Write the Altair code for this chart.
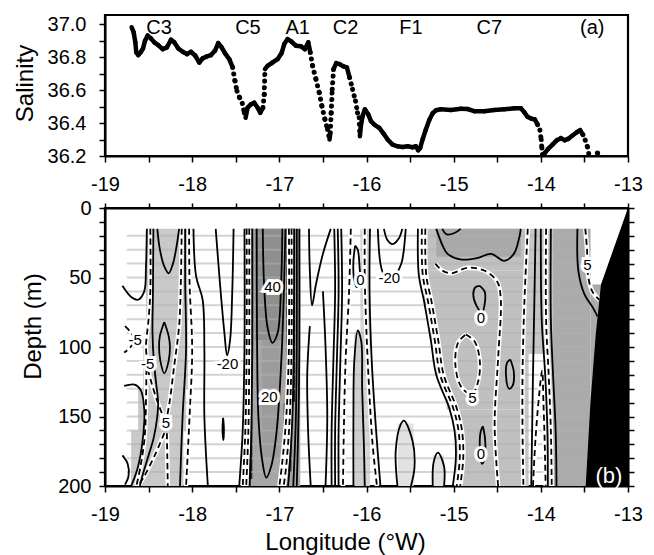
import altair as alt
import pandas as pd

FONT = "Liberation Sans"

# ---------------- (a) salinity along the track ----------------
sal_lon = [-18.694, -18.671, -18.652, -18.641, -18.618, -18.587, -18.564, -18.541, -18.511, -18.473,
           -18.434, -18.389, -18.339, -18.289, -18.243, -18.205, -18.159, -18.109, -18.060, -18.014,
           -17.964, -17.918, -17.880, -17.830, -17.784, -17.739, -17.701, -17.662, -17.624, -17.574,
           -17.536, -17.509, -17.486, -17.456, -17.425, -17.402, -17.387, -17.364, -17.326, -17.288,
           -17.249, -17.219, -17.188, -17.173, -17.165, -17.135, -17.077, -17.020, -16.974, -16.944,
           -16.905, -16.860, -16.810, -16.752, -16.707, -16.668, -16.645, -16.619, -16.580, -16.542,
           -16.512, -16.477, -16.447, -16.424, -16.416, -16.405, -16.393, -16.378, -16.347, -16.309,
           -16.263, -16.225, -16.194, -16.160, -16.126, -16.103, -16.084, -16.076, -16.065, -16.045,
           -16.018, -15.980, -15.949, -15.911, -15.854, -15.804, -15.758, -15.701, -15.643, -15.586,
           -15.529, -15.471, -15.433, -15.407, -15.384, -15.357, -15.319, -15.280, -15.242, -15.204,
           -15.147, -15.032, -14.917, -14.841, -14.764, -14.650, -14.535, -14.420, -14.306, -14.229,
           -14.191, -14.153, -14.107, -14.069, -14.038, -14.011, -13.996, -13.988, -13.981, -13.954,
           -13.916, -13.866, -13.816, -13.770, -13.725, -13.686, -13.637, -13.587, -13.549, -13.518,
           -13.491, -13.465, -13.446]
sal_val = [36.981, 36.950, 36.889, 36.828, 36.812, 36.832, 36.852, 36.899, 36.930, 36.913,
           36.889, 36.873, 36.848, 36.859, 36.905, 36.889, 36.852, 36.832, 36.818, 36.832,
           36.808, 36.767, 36.792, 36.804, 36.812, 36.838, 36.885, 36.859, 36.824, 36.787,
           36.737, 36.655, 36.594, 36.554, 36.519, 36.462, 36.432, 36.493, 36.513, 36.523,
           36.493, 36.462, 36.493, 36.574, 36.727, 36.747, 36.767, 36.787, 36.824, 36.879,
           36.909, 36.893, 36.869, 36.865, 36.848, 36.889, 36.828, 36.747, 36.665, 36.584,
           36.503, 36.422, 36.361, 36.300, 36.340, 36.462, 36.604, 36.727, 36.763, 36.757,
           36.743, 36.737, 36.676, 36.604, 36.533, 36.462, 36.432, 36.320, 36.381, 36.442,
           36.483, 36.452, 36.411, 36.391, 36.371, 36.336, 36.300, 36.269, 36.259, 36.255,
           36.259, 36.253, 36.259, 36.235, 36.249, 36.300, 36.361, 36.418, 36.458, 36.477,
           36.483, 36.479, 36.487, 36.485, 36.472, 36.472, 36.479, 36.483, 36.489, 36.489,
           36.466, 36.438, 36.426, 36.422, 36.391, 36.357, 36.300, 36.249, 36.208, 36.218,
           36.243, 36.269, 36.296, 36.308, 36.296, 36.304, 36.324, 36.344, 36.357, 36.330,
           36.296, 36.255, 36.202]
extra_lon = [-13.35]
extra_val = [36.218]
# stretches where the record is a row of separate dots
dotted_spans = [(-17.55, -17.38), (-17.19, -17.16), (-16.65, -16.42), (-16.42, -16.37),
                (-16.21, -16.07), (-14.04, -13.98), (-13.52, -13.44)]

stn_text = ["C3", "C5", "A1", "C2", "F1", "C7", "(a)"]
stn_lon = [-18.38, -17.36, -16.79, -16.24, -15.49, -14.59, -13.41]
stn_sal = [36.975, 36.975, 36.975, 36.975, 36.975, 36.975, 36.975]

lon_ticks = [-19, -18.5, -18, -17.5, -17, -16.5, -16, -15.5, -15, -14.5, -14, -13.5, -13]
sal_ticks = [36.2, 36.3, 36.4, 36.5, 36.6, 36.7, 36.8, 36.9, 37.0]
depth_ticks = [0, 10, 20, 30, 40, 50, 60, 70, 80, 90, 100, 110, 120, 130, 140, 150,
               160, 170, 180, 190, 200]

# ---------------- (b) section ----------------
# shaded patches: lon0, lon1, depth0, depth1, grey
shade = [
    (-18.53, -18.05, 15, 95, "#c9c9c9"),
    (-18.56, -18.05, 95, 130, "#c9c9c9"),
    (-18.62, -18.07, 130, 160, "#c9c9c9"),
    (-18.70, -18.10, 160, 200, "#c9c9c9"),
    (-17.40, -16.76, 15, 200, "#a6a6a6"),
    (-17.28, -16.96, 15, 95, "#8f8f8f"),
    (-17.20, -17.00, 95, 180, "#9c9c9c"),
    (-17.39, -17.31, 15, 195, "#262626"),
    (-16.92, -16.82, 15, 140, "#202020"),
    (-16.95, -16.86, 140, 190, "#404040"),
    (-16.07, -15.96, 15, 200, "#d6d6d6"),
    (-16.14, -16.02, 90, 200, "#cfcfcf"),
    (-15.64, -15.46, 155, 200, "#e2e2e2"),
    (-15.24, -15.11, 178, 200, "#e2e2e2"),
    (-15.38, -14.18, 15, 45, "#c0c0c0"),
    (-15.34, -14.18, 45, 70, "#c0c0c0"),
    (-15.26, -14.18, 70, 95, "#c0c0c0"),
    (-15.20, -14.18, 95, 120, "#c0c0c0"),
    (-15.08, -14.18, 120, 145, "#c0c0c0"),
    (-14.97, -14.18, 145, 200, "#c0c0c0"),
    (-15.20, -14.23, 15, 35, "#a9a9a9"),
    (-14.18, -13.86, 15, 105, "#c6c6c6"),
    (-14.18, -14.14, 105, 200, "#c6c6c6"),
    (-13.92, -13.86, 105, 200, "#c6c6c6"),
    (-13.86, -13.43, 15, 200, "#ababab"),
    (-13.43, -13.30, 55, 200, "#ababab"),
]
stripe_depths = [20, 30, 40, 50, 60, 70, 80, 90, 100, 110, 120, 130, 140, 150, 160, 170, 180, 190]
stripe_lon = (-18.75, -13.43)

contours = [
    ("solid", [(-18.80, 56), (-18.70, 64), (-18.62, 66), (-18.55, 60), (-18.53, 42), (-18.52, 15)]),
    ("dash", [(-18.48, 15), (-18.48, 60), (-18.50, 80), (-18.53, 100), (-18.515, 110)]),
    ("dash", [(-18.51, 116), (-18.47, 125), (-18.40, 139), (-18.32, 152)]),
    ("dash", [(-18.525, 116), (-18.53, 140), (-18.545, 165), (-18.59, 185), (-18.64, 200)]),
    ("dash", [(-18.77, 85), (-18.71, 89), (-18.67, 93)]),
    ("dash", [(-18.67, 97), (-18.72, 101), (-18.78, 104)]),
    ("solid", [(-18.445, 15), (-18.45, 60), (-18.455, 90), (-18.44, 110), (-18.41, 128), (-18.39, 140),
               (-18.40, 150), (-18.44, 165), (-18.52, 182), (-18.58, 195), (-18.60, 200)]),
    ("solid", [(-18.78, 128), (-18.66, 127), (-18.59, 131), (-18.55, 145), (-18.57, 168), (-18.625, 187), (-18.70, 200)]),
    ("solid", [(-18.80, 178), (-18.74, 184), (-18.73, 193), (-18.77, 199)]),
    ("solid", [(-18.40, 15), (-18.37, 30), (-18.32, 42), (-18.27, 47), (-18.22, 40), (-18.18, 28), (-18.15, 15)]),
    ("solid", [(-18.32, 82), (-18.27, 92), (-18.255, 100), (-18.27, 110), (-18.32, 119), (-18.365, 110),
               (-18.38, 100), (-18.37, 92), (-18.32, 82)]),
    ("dash", [(-18.12, 15), (-18.13, 54), (-18.15, 85), (-18.205, 113), (-18.26, 140), (-18.30, 154)]),
    ("dash", [(-18.32, 162), (-18.43, 178), (-18.55, 193), (-18.62, 200)]),
    ("dash", [(-18.29, 162), (-18.285, 180), (-18.28, 200)]),
    ("solid", [(-18.08, 15), (-18.08, 54), (-18.07, 102), (-18.11, 150), (-18.14, 200)]),
    ("dash", [(-18.035, 15), (-18.03, 54), (-18.00, 102), (-18.03, 150), (-18.07, 200)]),
    ("solid", [(-17.985, 15), (-17.955, 49), (-17.88, 66), (-17.86, 102), (-17.86, 150), (-17.82, 200)]),
    ("solid", [(-17.73, 15), (-17.68, 55), (-17.63, 90), (-17.60, 106), (-17.565, 95), (-17.54, 60), (-17.525, 15)]),
    ("solid", [(-17.645, 151), (-17.636, 158), (-17.642, 167), (-17.652, 160), (-17.645, 151)]),
    ("solid", [(-17.40, 15), (-17.40, 100), (-17.42, 160), (-17.46, 200)]),
    ("dash", [(-17.375, 15), (-17.375, 100), (-17.39, 160), (-17.42, 200)]),
    ("dash", [(-17.345, 15), (-17.345, 100), (-17.355, 160), (-17.38, 200)]),
    ("solid", [(-17.31, 15), (-17.31, 100), (-17.32, 160), (-17.34, 200)]),
    ("solid", [(-17.26, 15), (-17.255, 100), (-17.24, 150), (-17.20, 180), (-17.15, 194), (-17.09, 185),
               (-17.03, 160), (-16.97, 100), (-16.93, 15)]),
    ("solid", [(-17.19, 15), (-17.175, 55), (-17.135, 86), (-17.08, 97), (-17.02, 90), (-16.98, 55), (-16.965, 15)]),
    ("dash", [(-16.89, 15), (-16.89, 100), (-16.92, 150), (-16.97, 185), (-17.00, 200)]),
    ("dash", [(-16.86, 15), (-16.86, 100), (-16.88, 150), (-16.92, 185), (-16.95, 200)]),
    ("solid", [(-16.83, 15), (-16.835, 100), (-16.85, 150), (-16.88, 185), (-16.90, 200)]),
    ("solid", [(-16.80, 15), (-16.80, 100), (-16.81, 150), (-16.84, 200)]),
    ("solid", [(-16.77, 15), (-16.77, 100), (-16.78, 150), (-16.80, 200)]),
    ("solid", [(-16.66, 15), (-16.65, 45), (-16.625, 70), (-16.58, 55), (-16.50, 33), (-16.41, 15)]),
    ("solid", [(-16.65, 85), (-16.68, 120), (-16.67, 160), (-16.64, 200)]),
    ("solid", [(-16.50, 60), (-16.47, 100), (-16.45, 150), (-16.47, 200)]),
    ("solid", [(-16.37, 15), (-16.36, 60), (-16.38, 110), (-16.40, 160), (-16.40, 200)]),
    ("solid", [(-16.33, 15), (-16.32, 60), (-16.34, 110), (-16.36, 160), (-16.36, 200)]),
    ("solid", [(-16.29, 15), (-16.28, 60), (-16.30, 110), (-16.32, 160), (-16.32, 200)]),
    ("dash", [(-16.18, 15), (-16.20, 60), (-16.24, 110), (-16.26, 160), (-16.27, 200)]),
    ("solid", [(-16.13, 27), (-16.10, 30), (-16.08, 42), (-16.075, 50), (-16.11, 57), (-16.145, 50),
               (-16.15, 38), (-16.13, 27)]),
    ("solid", [(-16.15, 200), (-16.15, 150), (-16.14, 110), (-16.10, 88), (-16.06, 96), (-16.05, 130),
               (-16.03, 170), (-16.02, 200)]),
    ("dash", [(-16.02, 15), (-16.02, 50), (-16.00, 90), (-15.97, 130), (-15.93, 170), (-15.88, 200)]),
    ("solid", [(-15.96, 15), (-15.965, 60), (-15.94, 110), (-15.89, 160), (-15.84, 200)]),
    ("solid", [(-15.87, 15), (-15.84, 40), (-15.80, 48), (-15.74, 50), (-15.66, 47), (-15.60, 40), (-15.55, 15)]),
    ("solid", [(-15.80, 15), (-15.76, 23), (-15.70, 26), (-15.63, 22), (-15.59, 15)]),
    ("solid", [(-15.645, 200), (-15.665, 175), (-15.61, 156), (-15.57, 153), (-15.47, 168), (-15.45, 187), (-15.49, 200)]),
    ("solid", [(-15.24, 200), (-15.23, 183), (-15.18, 176), (-15.11, 186), (-15.11, 200)]),
    ("solid", [(-15.41, 15), (-15.40, 48), (-15.34, 67), (-15.26, 96), (-15.20, 120), (-15.05, 144),
               (-14.99, 160), (-14.975, 180), (-15.01, 200)]),
    ("dash", [(-15.365, 15), (-15.355, 48), (-15.295, 67), (-15.215, 96), (-15.155, 120), (-15.005, 144),
              (-14.945, 160), (-14.93, 180), (-14.965, 200)]),
    ("dash", [(-15.325, 15), (-15.315, 48), (-15.255, 67), (-15.175, 96), (-15.115, 120), (-14.965, 144),
              (-14.905, 160), (-14.89, 180), (-14.925, 200)]),
    ("solid", [(-15.20, 15), (-15.12, 28), (-15.07, 33), (-14.92, 37), (-14.73, 36), (-14.57, 33),
               (-14.42, 38), (-14.31, 33), (-14.25, 22), (-14.23, 15)]),
    ("solid", [(-15.13, 15), (-15.08, 19), (-14.99, 18), (-14.92, 15)]),
    ("dash", [(-15.21, 40), (-15.13, 45), (-15.03, 47), (-14.84, 43), (-14.65, 45), (-14.50, 53), (-14.46, 65),
              (-14.49, 108), (-14.53, 156), (-14.49, 200)]),
    ("solid", [(-14.70, 56), (-14.645, 60), (-14.64, 67), (-14.675, 75), (-14.74, 70), (-14.775, 62),
               (-14.75, 57), (-14.70, 56)]),
    ("dash", [(-14.86, 91), (-14.76, 96), (-14.70, 110), (-14.72, 125), (-14.79, 134), (-14.91, 129),
              (-14.98, 113), (-14.95, 97), (-14.86, 91)]),
    ("solid", [(-14.35, 109), (-14.31, 118), (-14.325, 128), (-14.365, 130), (-14.40, 120), (-14.385, 111), (-14.35, 109)]),
    ("solid", [(-14.665, 157), (-14.64, 166), (-14.645, 180), (-14.675, 184), (-14.70, 172), (-14.69, 161), (-14.665, 157)]),
    ("dash", [(-14.15, 15), (-14.19, 70), (-14.21, 120), (-14.21, 160), (-14.20, 200)]),
    ("solid", [(-14.06, 15), (-14.075, 70), (-14.09, 120), (-14.10, 160), (-14.11, 200)]),
    ("dash", [(-14.09, 200), (-14.06, 165), (-14.02, 135), (-13.985, 117), (-13.97, 140), (-13.955, 170), (-13.945, 200)]),
    ("solid", [(-14.00, 15), (-13.99, 80), (-13.95, 120), (-13.925, 160), (-13.92, 200)]),
    ("dash", [(-13.94, 15), (-13.94, 80), (-13.91, 120), (-13.885, 160), (-13.875, 200)]),
    ("solid", [(-13.885, 15), (-13.885, 80), (-13.86, 120), (-13.83, 160), (-13.82, 200)]),
    ("solid", [(-13.58, 15), (-13.57, 45), (-13.50, 62), (-13.40, 72), (-13.35, 78)]),
    ("dash", [(-13.49, 15), (-13.47, 30), (-13.46, 48), (-13.41, 60), (-13.33, 66)]),
]

lab_text = ["-5", "-5", "5", "-20", "40", "20", "0", "-20", "0", "5", "0", "5"]
lab_lon = [-18.655, -18.51, -18.30, -17.595, -17.077, -17.116, -16.07, -15.739, -14.688, -14.784, -14.688, -13.465]
lab_dep = [95, 112, 155, 112, 57, 136, 52, 50.5, 79, 136.5, 177, 41]

bathy_lon = [-13.0, -13.31, -13.37, -13.43, -13.485]
bathy_dep = [0, 55, 91, 139, 200]

# ---------------- frames ----------------
segs = []
for k in range(len(sal_lon) - 1):
    a, b = sal_lon[k], sal_lon[k + 1]
    dotted = any(lo - 0.001 <= a <= hi + 0.001 and lo - 0.001 <= b <= hi + 0.001 for lo, hi in dotted_spans)
    segs.append({"x": a, "y": sal_val[k], "x2": b, "y2": sal_val[k + 1], "kind": "dot" if dotted else "solid"})
seg_df = pd.DataFrame(segs)
extra_df = pd.DataFrame({"lon": extra_lon, "sal": extra_val})
stn_df = pd.DataFrame({"lon": stn_lon, "sal": stn_sal, "t": stn_text})

shade_df = pd.DataFrame(shade, columns=["l0", "l1", "d0", "d1", "g"])
stripe_df = pd.DataFrame({"d": stripe_depths, "l0": stripe_lon[0], "l1": stripe_lon[1]})
rows = []
for cid, (style, pts) in enumerate(contours):
    for i, (lo, de) in enumerate(pts):
        rows.append({"id": cid, "i": i, "style": style, "lon": lo, "depth": de})
cont_df = pd.DataFrame(rows)
lab_df = pd.DataFrame({"lon": lab_lon, "depth": lab_dep, "t": lab_text})
bathy_df = pd.DataFrame({"lon": bathy_lon, "depth": bathy_dep, "east": -13.0})
blab_df = pd.DataFrame({"lon": [-13.22], "depth": [193], "t": ["(b)"]})

# ---------------- scales / axes ----------------
xs = alt.Scale(domain=[-19, -13], nice=False, zero=False)
ys_top = alt.Scale(domain=[36.2, 37.055], nice=False, zero=False)
ys_bot = alt.Scale(domain=[0, 200], reverse=True, nice=False, zero=False)

common = dict(grid=False, labelFlush=False, labelOverlap=False, labelFontSize=20, labelFont=FONT,
              titleFont=FONT, titleFontSize=24, titleFontWeight="normal", labelColor="black",
              titleColor="black", domainColor="black", tickColor="black", domainWidth=2, tickWidth=1.5)
lon_expr = "datum.value % 1 == 0 ? '' + datum.value : ''"

ax_lon_top = alt.Axis(values=lon_ticks, labelExpr=lon_expr, title=None, tickSize=6, labelPadding=12, **common)
ax_sal = alt.Axis(values=sal_ticks, labelExpr="round(datum.value*10) % 2 == 0 ? format(datum.value, '.1f') : ''",
                  title="Salinity", tickSize=6, labelPadding=13, titlePadding=10, titleY=68, **common)
ax_lon_bot = alt.Axis(values=lon_ticks, labelExpr=lon_expr, title="Longitude (°W)", tickSize=6,
                      labelPadding=12, titlePadding=6, titleX=240, **common)
ax_dep = alt.Axis(values=depth_ticks, labelExpr="datum.value % 50 == 0 ? '' + datum.value : ''",
                  title="Depth (m)", tickSize=6, labelPadding=8, titlePadding=12, titleY=118, **common)
ax_lon_top2 = alt.Axis(values=lon_ticks, orient="top", labels=False, title=None, tickSize=5, **common)
ax_dep_right = alt.Axis(values=depth_ticks, orient="right", labels=False, title=None, tickSize=6, **common)

W = 523

# ---------------- top panel ----------------
solid_seg = alt.Chart(seg_df).transform_filter("datum.kind == 'solid'").mark_rule(
    color="black", strokeWidth=4.5, strokeCap="round", clip=True).encode(
    x=alt.X("x:Q", scale=xs, axis=ax_lon_top), y=alt.Y("y:Q", scale=ys_top, axis=ax_sal),
    x2="x2:Q", y2="y2:Q")
dot_seg = alt.Chart(seg_df).transform_filter("datum.kind == 'dot'").mark_rule(
    color="black", strokeWidth=5, strokeCap="round", strokeDash=[0.1, 6.5], clip=True).encode(
    x=alt.X("x:Q", scale=xs, axis=None), y=alt.Y("y:Q", scale=ys_top, axis=None),
    x2="x2:Q", y2="y2:Q")
extra = alt.Chart(extra_df).mark_circle(color="black", size=28, opacity=1).encode(
    x=alt.X("lon:Q", scale=xs, axis=None), y=alt.Y("sal:Q", scale=ys_top, axis=None))
stn = alt.Chart(stn_df).mark_text(font=FONT, fontSize=20, color="black").encode(
    x=alt.X("lon:Q", scale=xs, axis=None), y=alt.Y("sal:Q", scale=ys_top, axis=None), text="t:N")
top = alt.layer(solid_seg, dot_seg, extra, stn).resolve_axis(
    x="independent", y="independent").properties(width=W, height=141)

# ---------------- bottom panel ----------------
def X(f, axis=None):
    return alt.X(f, scale=xs, axis=axis)


def Y(f, axis=None):
    return alt.Y(f, scale=ys_bot, axis=axis)


shade_l = alt.Chart(shade_df).mark_rect(clip=True).encode(
    x=X("l0:Q", ax_lon_bot), x2="l1:Q", y=Y("d0:Q", ax_dep), y2="d1:Q", color=alt.Color("g:N", scale=None))
stripes = alt.Chart(stripe_df).mark_rule(color="#b0b0b0", opacity=0.55, strokeWidth=2).encode(
    x=X("l0:Q", ax_lon_top2), x2="l1:Q", y=Y("d:Q", ax_dep_right))
casing = alt.Chart(cont_df).transform_filter("datum.style == 'dash'").mark_line(
    color="white", strokeWidth=4.5, interpolate="catmull-rom", clip=True).encode(
    x=X("lon:Q"), y=Y("depth:Q"), detail="id:N", order="i:Q")
dashed = alt.Chart(cont_df).transform_filter("datum.style == 'dash'").mark_line(
    color="black", strokeWidth=1.8, strokeDash=[6, 4], interpolate="catmull-rom", clip=True).encode(
    x=X("lon:Q"), y=Y("depth:Q"), detail="id:N", order="i:Q")
solid = alt.Chart(cont_df).transform_filter("datum.style == 'solid'").mark_line(
    color="black", strokeWidth=1.8, interpolate="catmull-rom", clip=True).encode(
    x=X("lon:Q"), y=Y("depth:Q"), detail="id:N", order="i:Q")
halo = alt.Chart(lab_df).mark_text(font=FONT, fontSize=15, fill="white", stroke="white", strokeWidth=6).encode(
    x=X("lon:Q"), y=Y("depth:Q"), text="t:N")
labs = alt.Chart(lab_df).mark_text(font=FONT, fontSize=15, color="black").encode(
    x=X("lon:Q"), y=Y("depth:Q"), text="t:N")
bathy = alt.Chart(bathy_df).mark_area(orient="horizontal", color="black", clip=True).encode(
    y=Y("depth:Q"), x=X("lon:Q"), x2="east:Q")
blab = alt.Chart(blab_df).mark_text(font=FONT, fontSize=22, color="white").encode(
    x=X("lon:Q"), y=Y("depth:Q"), text="t:N")

bottom = alt.layer(shade_l, stripes, casing, dashed, solid, halo, labs, bathy, blab).resolve_axis(
    x="independent", y="independent").properties(width=W, height=278)

chart = alt.vconcat(top, bottom, spacing=0).properties(
    padding={"left": 11, "top": 12, "right": 5, "bottom": 0}, background="white"
).configure_view(stroke="black", strokeWidth=2.2)

chart.save("out.html", embed_options={"renderer": "svg", "actions": False})
